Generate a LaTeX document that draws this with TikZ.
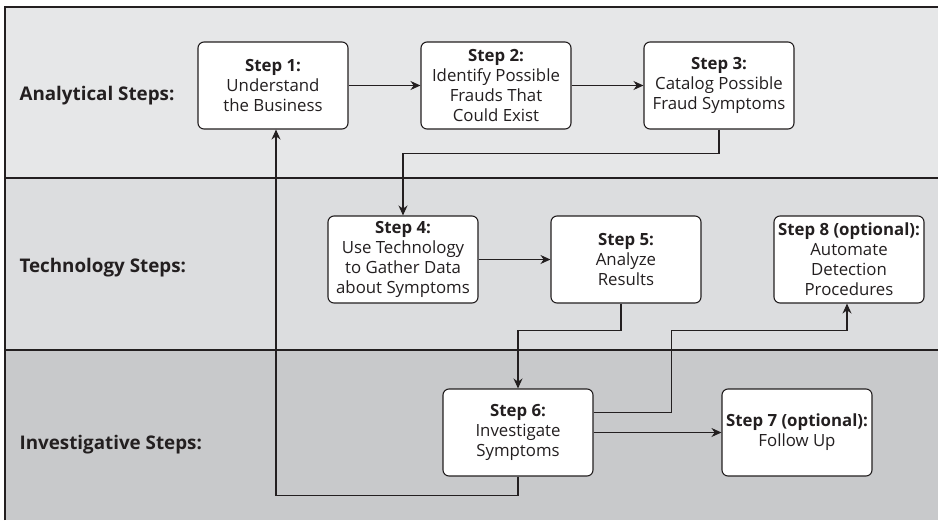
\documentclass[tikz,border=0pt]{standalone}
\usepackage{fontspec}
\setmainfont{Open Sans}
\usetikzlibrary{arrows.meta}
\definecolor{bandtop}{RGB}{230,231,232}
\definecolor{bandmid}{RGB}{220,221,223}
\definecolor{bandlow}{RGB}{200,201,203}
\definecolor{ink}{RGB}{35,31,32}
\begin{document}
\begin{tikzpicture}[x=1pt,y=-1pt]

\tikzstyle{stepbox}=[draw=ink, line width=1.1pt, fill=white, rounded corners=6pt, minimum width=150pt, minimum height=87pt, inner xsep=0pt, align=center, font=\fontsize{16.8}{20}\selectfont, text=ink]
\tikzstyle{band}=[font=\fontsize{18.8}{22}\selectfont\bfseries, text=ink, anchor=west]
\tikzstyle{flow}=[draw=ink, line width=1.1pt, -{Stealth[length=10pt,width=9pt]}]

\useasboundingbox (0,0) rectangle (938,520);
\fill[white] (0,0) rectangle (938,520);
\fill[bandtop] (5,7) rectangle (938,178);
\fill[bandmid] (5,178) rectangle (938,350);
\fill[bandlow] (5,350) rectangle (938,520);
\draw[ink, line width=1.1pt] (5,520) -- (5,7) -- (938,7);
\draw[ink, line width=1.1pt] (5,178) -- (938,178);
\draw[ink, line width=1.1pt] (5,350) -- (938,350);

\node[band] (anl) at (16,96) {Analytical Steps:};
\node[band] (tech) at (16,268) {Technology Steps:};
\node[band] (inv) at (16,445) {Investigative Steps:};

\node[stepbox] (s1) at (273,85.5) {{\bf Step 1:}\\Understand\\the Business};
\node[stepbox] (s2) at (496,85.5) {{\bf Step 2:}\\Identify Possible\\Frauds That\\Could Exist};
\node[stepbox] (s3) at (719,85.5) {{\bf Step 3:}\\Catalog Possible\\Fraud Symptoms};
\node[stepbox] (s4) at (403,259.5) {{\bf Step 4:}\\Use Technology\\to Gather Data\\about Symptoms};
\node[stepbox] (s5) at (626,259.5) {{\bf Step 5:}\\Analyze\\Results};
\node[stepbox] (s8) at (849,259.5) {{\bf Step 8 (optional):}\\Automate\\Detection\\Procedures};
\node[stepbox] (s6) at (518,432.5) {{\bf Step 6:}\\Investigate\\Symptoms};
\node[stepbox] (s7) at (797,432.5) {{\bf Step 7 (optional):}\\Follow Up};

\draw[flow] (s1.east) -- (s2.west);
\draw[flow] (s2.east) -- (s3.west);
\draw[flow] (s3.south) -- ++(0,24) -| (s4.north);
\draw[flow] (s4.east) -- (s5.west);
\draw[flow] ([xshift=-5pt]s5.south) -- ++(0,27) -| (s6.north);
\draw[flow] ([yshift=20pt]s6.east) -- ++(78,0) -- ++(0,-82) -| ([xshift=-2pt]s8.south);
\draw[flow] (s6.east) -- (s7.west);
\draw[flow] (s6.south) -- ++(0,19) -| ([xshift=3pt]s1.south);
\end{tikzpicture}
\end{document}
